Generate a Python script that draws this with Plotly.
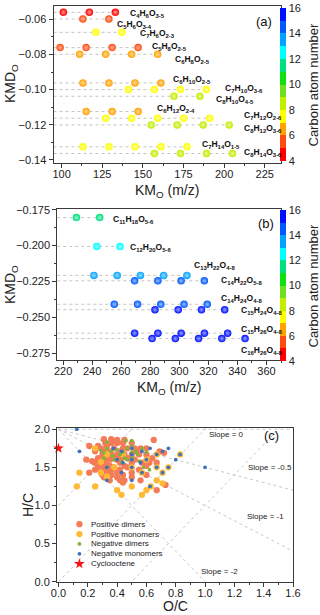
import re
import plotly.graph_objects as go

# ---- panel (a): KMD_O vs KM_O, C4-C8 series ----
a_formula = ["C4H6O3-5", "C5H6O3-4", "C7H6O2-3", "C5H8O2-5", "C6H8O2-5", "C6H10O2-5",
             "C7H10O3-6", "C8H10O4-5", "C6H12O2-4", "C7H12O2-6", "C8H12O3-6",
             "C7H14O1-5", "C8H14O3-6"]
a_carbon = [4, 5, 7, 5, 6, 6, 7, 8, 6, 7, 8, 7, 8]
a_kmd = [-0.0560, -0.0598, -0.0674, -0.0761, -0.0799, -0.0962, -0.1000, -0.1038,
         -0.1125, -0.1163, -0.1201, -0.1326, -0.1364]
a_km = [[101.06, 117.06, 133.06],
        [113.06, 129.06],
        [121.07, 137.07],
        [99.08, 115.08, 131.08, 147.08],
        [111.08, 127.08, 143.08, 159.08],
        [113.10, 129.10, 145.10, 161.10],
        [141.10, 157.10, 173.10, 189.10],
        [169.10, 185.10],
        [115.11, 131.11, 147.11],
        [127.12, 143.12, 159.12, 175.12, 191.12],
        [155.12, 171.12, 187.12, 203.12],
        [113.13, 129.13, 145.13, 161.13, 177.13],
        [157.14, 173.14, 189.14, 205.14]]

# ---- panel (b): C11-C16 series ----
b_formula = ["C11H18O5-6", "C12H20O5-6", "C13H22O4-8", "C14H22O5-8", "C14H24O4-8",
             "C15H24O4-8", "C15H26O4-8", "C16H26O4-8"]
b_carbon = [11, 12, 13, 14, 14, 15, 15, 16]
b_kmd = [-0.1805, -0.2006, -0.2207, -0.2245, -0.2408, -0.2446, -0.2609, -0.2647]
b_km = [[229.18, 245.18],
        [243.20, 259.20],
        [241.22, 257.22, 273.22, 289.22, 305.22],
        [269.22, 285.22, 301.22, 317.22],
        [255.24, 271.24, 287.24, 303.24, 319.24],
        [283.24, 299.24, 315.24, 331.24],
        [269.26, 285.26, 301.26, 317.26, 333.26],
        [281.26, 297.26, 313.26, 329.26, 345.26]]

# ---- panel (c): van Krevelen ----
pos_dimers_oc = [0.31, 0.36, 0.40, 0.45, 0.65, 0.32, 0.36, 0.40, 0.44, 0.50, 0.21, 0.27,
                 0.33, 0.29, 0.38, 0.44, 0.47, 0.52, 0.56, 0.60, 0.25, 0.31, 0.35, 0.42,
                 0.53, 0.69, 0.72, 0.30, 0.36, 0.40, 0.45, 0.50, 0.55, 0.60, 0.27, 0.33,
                 0.38, 0.43, 0.47, 0.64, 0.19, 0.23, 0.30, 0.35, 0.40, 0.52, 0.25, 0.29,
                 0.32, 0.42, 0.50, 0.57, 0.62, 0.67, 0.30, 0.35, 0.45, 0.60, 0.27, 0.33,
                 0.38, 0.47, 0.25, 0.31, 0.36, 0.42, 0.55, 0.21, 0.29, 0.33, 0.40, 0.50,
                 0.30, 0.36, 0.44, 0.60, 0.31, 0.34, 0.40, 0.50, 0.35, 0.42, 0.45, 0.56,
                 0.44, 0.73, 0.67]
pos_dimers_hc = [1.87, 1.87, 1.86, 1.86, 1.86, 1.82, 1.82, 1.82, 1.82, 1.82, 1.78, 1.78,
                 1.78, 1.75, 1.75, 1.75, 1.75, 1.75, 1.75, 1.75, 1.71, 1.71, 1.71, 1.71,
                 1.71, 1.71, 1.69, 1.67, 1.67, 1.67, 1.67, 1.67, 1.67, 1.67, 1.62, 1.62,
                 1.62, 1.62, 1.62, 1.62, 1.60, 1.58, 1.60, 1.60, 1.60, 1.60, 1.56, 1.56,
                 1.56, 1.56, 1.56, 1.56, 1.56, 1.56, 1.52, 1.52, 1.52, 1.52, 1.50, 1.50,
                 1.50, 1.50, 1.47, 1.47, 1.47, 1.47, 1.47, 1.43, 1.43, 1.43, 1.43, 1.43,
                 1.40, 1.40, 1.40, 1.40, 1.37, 1.37, 1.37, 1.37, 1.33, 1.33, 1.33, 1.33,
                 1.30, 1.27, 1.20]
pos_mono_oc = [0.125, 0.143, 0.25, 0.25, 0.29, 0.33, 0.38, 0.40, 0.43, 0.50, 0.57, 0.60,
               0.67, 0.71, 0.71, 0.75, 0.83, 0.67, 0.63, 0.50, 0.60, 0.44, 0.29, 0.33,
               0.57, 0.67]
pos_mono_hc = [1.25, 1.43, 1.25, 1.75, 1.43, 1.38, 1.50, 1.20, 1.14, 1.25, 1.14, 1.20,
               1.33, 1.29, 1.43, 1.50, 1.67, 1.67, 1.25, 1.50, 1.60, 1.67, 1.57, 1.67,
               1.43, 1.50]
neg_dimers_oc = [0.29, 0.31, 0.31, 0.33, 0.36, 0.37, 0.38, 0.40, 0.42, 0.43, 0.44, 0.45,
                 0.47, 0.47, 0.50, 0.50, 0.50, 0.53, 0.54, 0.55, 0.57, 0.58, 0.60, 0.62,
                 0.46, 0.33, 0.50]
neg_dimers_hc = [1.72, 1.62, 1.69, 1.83, 1.71, 1.65, 1.60, 1.73, 1.67, 1.57, 1.70, 1.62,
                 1.75, 1.60, 1.85, 1.70, 1.63, 1.71, 1.67, 1.58, 1.75, 1.50, 1.70, 1.47,
                 1.85, 1.75, 1.78]
neg_mono_oc = [0.125, 0.143, 0.33, 0.375, 0.43, 0.43, 0.44, 0.50, 0.50, 0.50, 0.50, 0.50,
               0.57, 0.57, 0.60, 0.625, 0.625, 0.67, 0.67, 0.71, 0.71, 0.75, 0.75, 0.80,
               0.83, 1.00, 0.40, 0.56, 0.33]
neg_mono_hc = [2.00, 1.71, 1.33, 1.75, 1.71, 1.43, 1.56, 1.75, 1.67, 1.60, 1.50, 1.33,
               1.71, 1.43, 1.60, 1.75, 1.25, 1.67, 1.50, 1.71, 1.43, 1.75, 1.50, 1.60,
               1.67, 1.50, 1.60, 1.56, 1.50]
cyclooctene_oc = [0.0]
cyclooctene_hc = [1.75]

# carbon-number colour bar (one band per carbon, 4..16)
seg_colors = ["#ff0000", "#ff4a10", "#ffa200", "#ffff00", "#c2ee00", "#70e020",
              "#10e010", "#00e080", "#00ffff", "#00a4ff", "#0058ff", "#0010ff"]
C_MIN, C_MAX = 4, 16

FONT = "Liberation Sans, Arial, sans-serif"
AX_LINE = "#3a3a3a"
W, H = 320, 615


def chem(f):
    return "<b>" + re.sub(r"(\d[\d,\-]*)", r"<sub>\1</sub>", f) + "</b>"


def carbon_color(c):
    return seg_colors[min(c - C_MIN, len(seg_colors) - 1)]


def tint(hexcol, f=0.6):
    r, g, b = (int(hexcol[i:i + 2], 16) for i in (1, 3, 5))
    r, g, b = (int(v + (255 - v) * f) for v in (r, g, b))
    return f"#{r:02x}{g:02x}{b:02x}"


def discrete_scale():
    n = len(seg_colors)
    cs = []
    for i, col in enumerate(seg_colors):
        cs.append([i / n, col])
        cs.append([(i + 1) / n, col])
    return cs


def paper_text(text, x_px, y_px, size, angle=0):
    fig.add_annotation(x=x_px / W, y=(H - y_px) / H, xref="paper", yref="paper",
                       xanchor="center", yanchor="middle",
                       text=text, textangle=angle, showarrow=False,
                       font=dict(size=size, color="#222"))


fig = go.Figure()


def kmd_panel(xa, ya, km, kmd, carbon, x_left, cb_top_px, cb_len):
    # dotted guide line for each homologous row
    lx, ly = [], []
    for xs, y in zip(km, kmd):
        lx += [x_left, max(xs), None]
        ly += [y, y, None]
    fig.add_trace(go.Scatter(x=lx, y=ly, mode="lines", xaxis=xa, yaxis=ya,
                             line=dict(color="#c4c4c4", width=1, dash="dot"),
                             hoverinfo="skip", showlegend=False))
    px, py, pc, pg = [], [], [], []
    for xs, y, c in zip(km, kmd, carbon):
        for x in xs:
            px.append(x)
            py.append(y)
            pc.append(carbon_color(c))
            pg.append(tint(carbon_color(c)))
    fig.add_trace(go.Scatter(x=px, y=py, mode="markers", xaxis=xa, yaxis=ya,
                             marker=dict(size=7.5, color=pc,
                                         gradient=dict(type="radial", color=pg),
                                         line=dict(width=0)),
                             showlegend=False))
    # colour bar carrier
    fig.add_trace(go.Scatter(x=[None], y=[None], mode="markers", xaxis=xa, yaxis=ya,
                             showlegend=False,
                             marker=dict(color=[C_MIN], cmin=C_MIN, cmax=C_MAX,
                                         colorscale=discrete_scale(), showscale=True,
                                         colorbar=dict(
                                             x=280 / W, xanchor="left", xpad=0, ypad=0,
                                             y=(H - cb_top_px) / H, yanchor="top",
                                             lenmode="pixels", len=cb_len,
                                             thickness=6, outlinewidth=0,
                                             tickvals=list(range(4, 17, 2)),
                                             ticks="", tickfont=dict(size=11, color="#222")))))
    paper_text("Carbon atom number", 313, cb_top_px + cb_len / 2, 13, -90)


A_XR = [95, 235]
B_XR = [216, 370]
kmd_panel("x", "y", a_km, a_kmd, a_carbon, A_XR[0], 8, 153)
kmd_panel("x2", "y2", b_km, b_kmd, b_carbon, B_XR[0], 210, 151)

# ---- panel (c) traces ----
oc_ref = [0, 1.6]
for s in [0, -0.5, -1, -2]:
    fig.add_trace(go.Scatter(x=oc_ref, y=[2 + s * v for v in oc_ref], mode="lines",
                             xaxis="x3", yaxis="y3", showlegend=False, hoverinfo="skip",
                             line=dict(color="#c8c8c8", width=1, dash="dot")))
for osc in [-1, 0, 1]:
    fig.add_trace(go.Scatter(x=oc_ref, y=[2 * v - osc for v in oc_ref], mode="lines",
                             xaxis="x3", yaxis="y3", showlegend=False, hoverinfo="skip",
                             line=dict(color="#c8c8c8", width=1, dash="dot")))

vk_series = [
    ("Positive dimers", pos_dimers_oc, pos_dimers_hc, "#f47b58", 6.3, "circle"),
    ("Positive monomers", pos_mono_oc, pos_mono_hc, "#ffb936", 6.3, "circle"),
    ("Negative dimers", neg_dimers_oc, neg_dimers_hc, "#86b03a", 3.8, "circle"),
    ("Negative monomers", neg_mono_oc, neg_mono_hc, "#3f73b8", 3.8, "circle"),
    ("Cyclooctene", cyclooctene_oc, cyclooctene_hc, "#ff1010", 8, "star"),
]
for name, xs, ys, col, sz, sym in vk_series:
    fig.add_trace(go.Scatter(x=xs, y=ys, mode="markers", name=name, xaxis="x3", yaxis="y3",
                             cliponaxis=False, showlegend=False,
                             marker=dict(color=col, size=sz, symbol=sym, line=dict(width=0))))

# hand-built legend (plotly's legend rows are too tall for this layout)
LEG_X, LEG_TX, LEG_Y0, LEG_DY = 0.143, 0.205, 0.755, 0.13
for i, (name, xs, ys, col, sz, sym) in enumerate(vk_series):
    ly = LEG_Y0 - i * LEG_DY
    fig.add_trace(go.Scatter(x=[LEG_X], y=[ly], mode="markers", xaxis="x3", yaxis="y3",
                             showlegend=False, hoverinfo="skip",
                             marker=dict(color=col, size=sz, symbol=sym, line=dict(width=0))))
    fig.add_annotation(x=LEG_TX, y=ly, xref="x3", yref="y3", text=name, showarrow=False,
                       xanchor="left", font=dict(size=8, color="#222"))

# ---- annotations ----
a_lab_x = [140.8, 132.7, 146.9, 154.1, 168.8, 167.4, 199.6, 193.5, 157.7, 210.9, 210.9, 185.0, 210.9]
a_lab_y = [-0.0566, -0.0632, -0.0680, -0.0752, -0.0827, -0.0945, -0.0992, -0.1055, -0.1110,
           -0.1148, -0.1223, -0.1314, -0.1361]
for f, x, y in zip(a_formula, a_lab_x, a_lab_y):
    fig.add_annotation(x=x, y=y, xref="x", yref="y", text=chem(f), showarrow=False,
                       xanchor="left", font=dict(size=8.5, color="#111"))
b_lab_x = [253.0, 264.9, 309.0, 327.3, 327.3, 341.3, 341.3, 341.3]
b_lab_y = [-0.1819, -0.2014, -0.2137, -0.2245, -0.2368, -0.2454, -0.2581, -0.2727]
for f, x, y in zip(b_formula, b_lab_x, b_lab_y):
    fig.add_annotation(x=x, y=y, xref="x2", yref="y2", text=chem(f), showarrow=False,
                       xanchor="left", font=dict(size=8.5, color="#111"))

fig.add_annotation(x=224.5, y=-0.0614, xref="x", yref="y", text="(a)", showarrow=False,
                   font=dict(size=13, color="#111"))
fig.add_annotation(x=360, y=-0.1847, xref="x2", yref="y2", text="(b)", showarrow=False,
                   font=dict(size=13, color="#111"))
fig.add_annotation(x=1.45, y=1.92, xref="x3", yref="y3", text="(c)", showarrow=False,
                   font=dict(size=13, color="#111"))

for txt, x, y in [("Slope = 0", 1.146, 1.93), ("Slope = -0.5", 1.445, 1.5),
                  ("Slope = -1", 1.41, 0.86), ("Slope = -2", 1.1, 0.13)]:
    fig.add_annotation(x=x, y=y, xref="x3", yref="y3", text=txt, showarrow=False,
                       font=dict(size=8, color="#222"))
for txt, x in [("OS<sub>C</sub> = -1", 0.556), ("OS<sub>C</sub> = 0", 1.055),
               ("OS<sub>C</sub> = 1", 1.486)]:
    fig.add_annotation(x=x, y=2.23, xref="x3", yref="y3", text=txt, showarrow=False,
                       font=dict(size=8, color="#222"))

# axis titles, placed in pixels
paper_text("KM<sub>O</sub> (m/z)", 167, 191, 14)
paper_text("KMD<sub>O</sub>", 11, 84, 14, -90)
paper_text("KM<sub>O</sub> (m/z)", 169, 388, 14)
paper_text("KMD<sub>O</sub>", 11, 285, 14, -90)
paper_text("O/C", 175, 606, 14)
paper_text("H/C", 28, 505, 14, -90)

# ---- axes ----
axis_common = dict(showline=True, mirror=True, linecolor=AX_LINE, linewidth=1,
                   ticks="outside", ticklen=4, tickcolor=AX_LINE, showgrid=False,
                   zeroline=False, automargin=False, tickfont=dict(size=11, color="#222"),
                   minor=dict(ticks="outside", ticklen=2, tickcolor=AX_LINE))
x_common = dict(axis_common, ticklabelstandoff=-3)

fig.update_layout(
    width=W, height=H, margin=dict(l=0, r=0, t=0, b=0, autoexpand=False),
    paper_bgcolor="white", plot_bgcolor="white",
    font=dict(family=FONT), showlegend=False,
    xaxis=dict(x_common, domain=[53.5 / W, 281 / W], range=A_XR,
               tickvals=[100, 125, 150, 175, 200, 225],
               minor=dict(axis_common["minor"], dtick=12.5, tick0=100)),
    yaxis=dict(axis_common, domain=[(H - 163) / H, (H - 6) / H],
               range=[-0.1418, -0.0524], tickvals=[-0.14, -0.12, -0.10, -0.08, -0.06],
               tickformat=".2f", minor=dict(axis_common["minor"], dtick=0.01, tick0=-0.06)),
    xaxis2=dict(x_common, anchor="y2", domain=[57.3 / W, 281 / W], range=B_XR,
                tickvals=list(range(220, 361, 20)),
                minor=dict(axis_common["minor"], dtick=10, tick0=220)),
    yaxis2=dict(axis_common, anchor="x2", domain=[(H - 360) / H, (H - 209) / H],
                range=[-0.2796, -0.1745],
                tickvals=[-0.275, -0.25, -0.225, -0.2, -0.175], tickformat=".3f",
                minor=dict(axis_common["minor"], dtick=0.0125, tick0=-0.175)),
    xaxis3=dict(x_common, anchor="y3", domain=[57 / W, 293 / W], range=[-0.01, 1.6],
                tickvals=[0, 0.2, 0.4, 0.6, 0.8, 1.0, 1.2, 1.4, 1.6], tickformat=".1f",
                minor=dict(axis_common["minor"], dtick=0.1, tick0=0)),
    yaxis3=dict(axis_common, anchor="x3", domain=[(H - 581.7) / H, (H - 427.7) / H],
                range=[0, 2.02], tickvals=[0, 0.5, 1.0, 1.5, 2.0], tickformat=".1f",
                minor=dict(axis_common["minor"], dtick=0.25, tick0=0)),
)

# the page's default 8px body margin would push the 320x615 figure off-screen
fig.write_html("out.html", config={"displayModeBar": False},
               post_script="document.body.style.margin='0px';")
